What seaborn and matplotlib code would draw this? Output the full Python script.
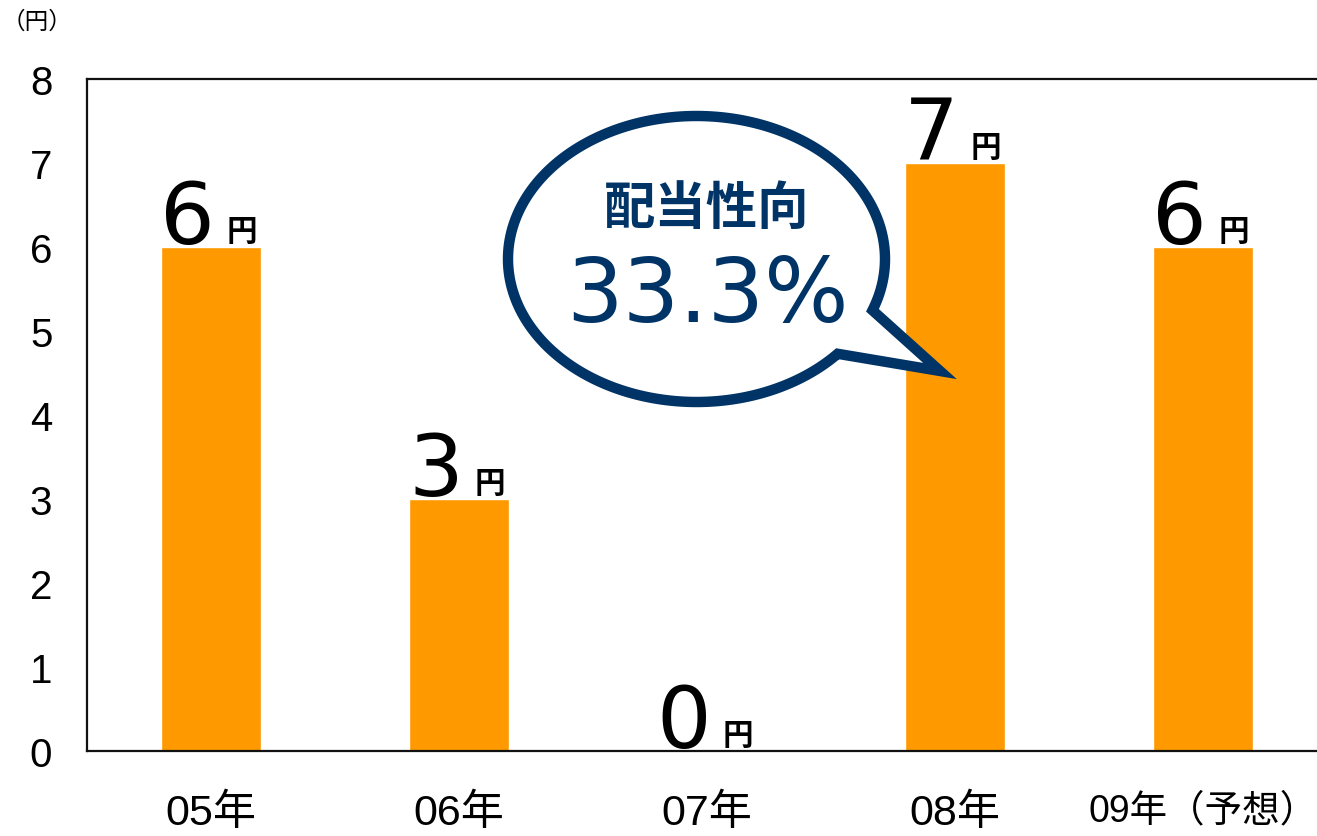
import numpy as np
import pandas as pd
import matplotlib
matplotlib.use("Agg")
import matplotlib.pyplot as plt
from matplotlib.patches import Polygon
import seaborn as sns

# データ
years = ["05年", "06年", "07年", "08年", "09年（予想）"]
dividends = [6, 3, 0, 7, 6]
yticks = [0, 1, 2, 3, 4, 5, 6, 7, 8]
payout_title = "配当性向"
payout_value = "33.3%"
unit = "円"

sns.set_style("white")
plt.rcParams['font.family'] = ['Liberation Sans', 'Noto Sans CJK JP', 'DejaVu Sans']

W, H = 1317, 837
fig = plt.figure(figsize=(W / 100, H / 100), dpi=100)
ax = fig.add_axes([87 / W, 1 - 752 / H, 1240 / W, 672 / H])

df = pd.DataFrame({"year": years, "dividend": dividends})
sns.barplot(data=df, x="year", y="dividend", color="#FF9900", saturation=1,
            width=0.4, ax=ax)

ax.set_xlim(-0.5, 4.5)
ax.set_ylim(0, 8)
ax.set_yticks(yticks)
ax.set_xlabel("")
ax.set_ylabel("")
for s in ["left", "bottom", "top"]:
    ax.spines[s].set_linewidth(1.6)
    ax.spines[s].set_color("#111111")
ax.spines["right"].set_visible(False)

ax.tick_params(axis="y", length=0, pad=25, labelsize=29, labelcolor="black")
ax.tick_params(axis="x", which="major", length=0, pad=30, labelsize=31,
               labelcolor="black")
ax.get_xticklabels()[-1].set_fontsize(27)
ax.set_xticks([0.5, 1.5, 2.5, 3.5], minor=True)
ax.tick_params(axis="x", which="minor", direction="in", length=10, width=1.3,
               color="#111111")

# 値ラベル
for i, v in enumerate(dividends):
    ax.annotate(str(v), xy=(i, v), xytext=(4, 4), textcoords="offset pixels",
                ha="right", va="baseline", fontsize=62, family="DejaVu Sans",
                color="black")
    ax.annotate(unit, xy=(i, v), xytext=(16, 7), textcoords="offset pixels",
                ha="left", va="baseline", fontsize=22, fontweight="bold",
                family=["Noto Sans CJK JP"], color="black")

fig.text(37 / W, 1 - 22 / H, "（円）", ha="center", va="center", fontsize=17,
         family=["Noto Sans CJK JP"], color="black")

# 吹き出し
cx, cy, a, b = 696.5, 260, 188.5, 143
tip = (940, 372)
t1 = np.arctan2((310 - cy) / b, (868 - cx) / a)
t2 = np.arctan2((353 - cy) / b, (835 - cx) / a)
ts = np.linspace(t2, t1 + 2 * np.pi, 300)
pts = [(cx + a * np.cos(t), cy + b * np.sin(t)) for t in ts] + [tip]
pts = [(x / W, 1 - y / H) for x, y in pts]
bubble = Polygon(pts, closed=True, facecolor="white", edgecolor="#003366",
                 linewidth=7.5, joinstyle="miter", transform=fig.transFigure,
                 zorder=5)
fig.add_artist(bubble)
fig.text(707 / W, 1 - 208 / H, payout_title, ha="center", va="center",
         fontsize=37, fontweight="bold", color="#003366",
         family=["Noto Sans CJK JP"], zorder=6)
fig.text(707 / W, 1 - 322 / H, payout_value, ha="center", va="baseline",
         fontsize=64, color="#003366", family="DejaVu Sans", zorder=6)

fig.savefig("out.png", dpi=100)
